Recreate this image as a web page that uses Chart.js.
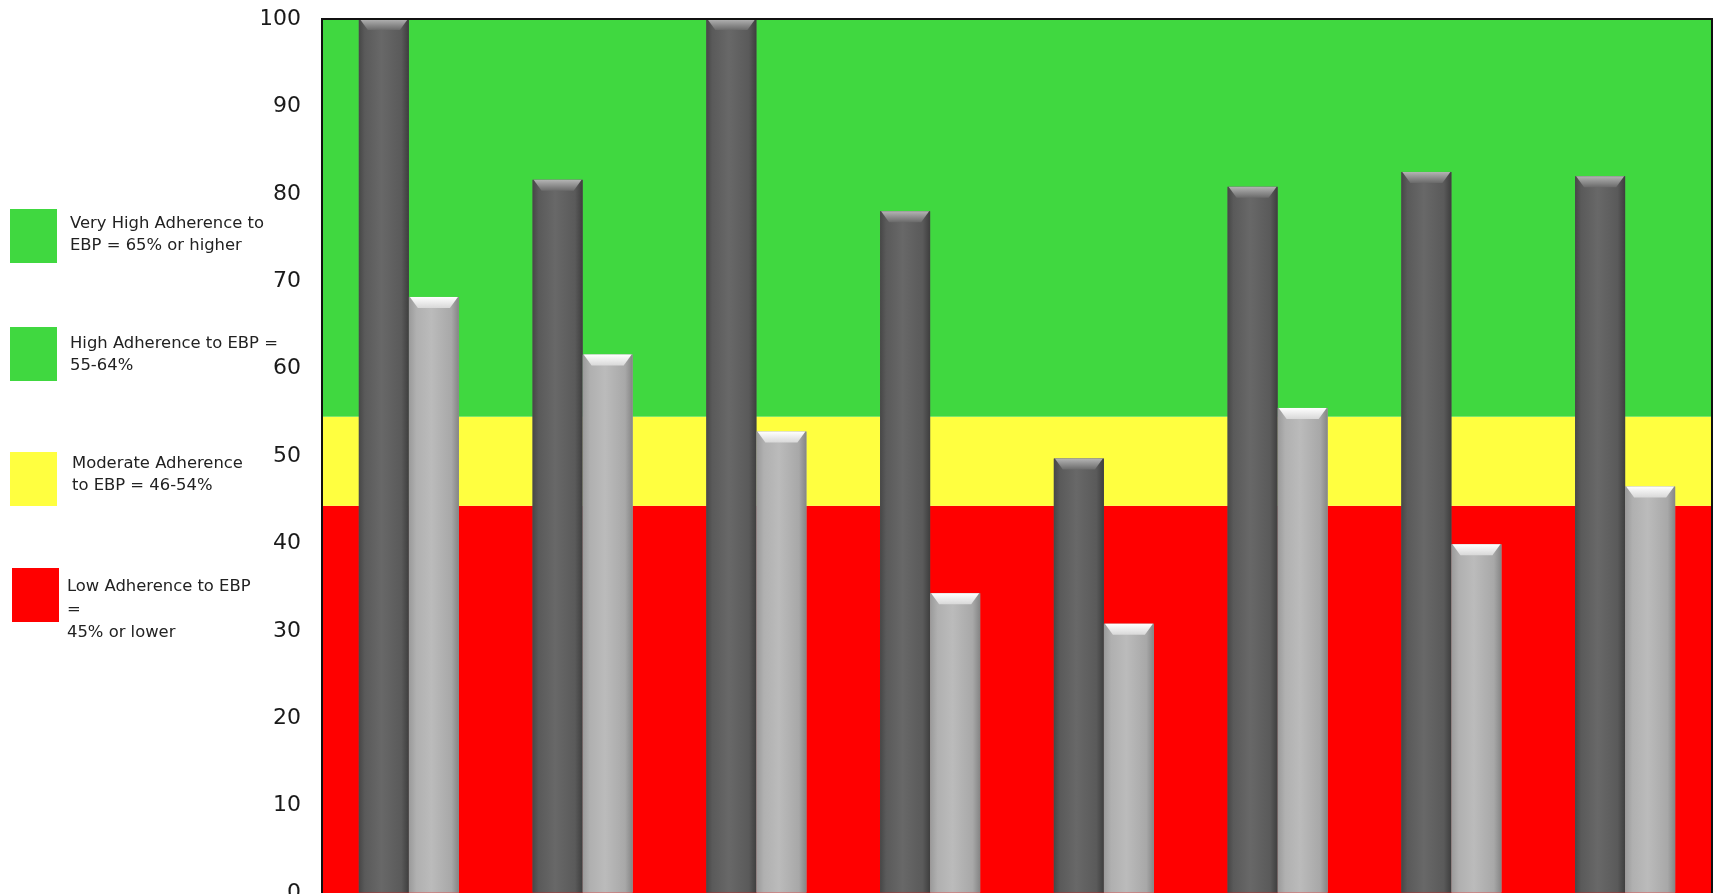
<!DOCTYPE html>
<html><head><meta charset="utf-8">
<script src="https://cdn.jsdelivr.net/npm/chart.js@4/dist/chart.umd.min.js"></script>
<style>
html,body{margin:0;padding:0;background:#fff;overflow:hidden;width:1719px;height:894px;}
#wrap{position:relative;width:1719px;height:911px;}
#c{position:absolute;left:0;top:0;}
.box{position:absolute;width:47px;height:54px;}
.txt{position:absolute;font-family:"DejaVu Sans",sans-serif;font-size:16.4px;line-height:22px;color:#222;white-space:nowrap;}
</style></head><body>
<div id="wrap"><canvas id="c" width="1719" height="911"></canvas><div id="legend"></div></div>
<script>
// ---- data ----
const categories = ["1", "2", "3", "4", "5", "6", "7", "8"];
const seriesDark  = [100, 81.6, 100, 78.0, 49.7, 80.8, 82.5, 82.0];
const seriesLight = [68.2, 61.6, 52.8, 34.3, 30.8, 55.5, 39.9, 46.5];
const yTicks = [0, 10, 20, 30, 40, 50, 60, 70, 80, 90, 100];
const bandLow   = [0, 44.3, 54.5];
const bandHigh  = [44.3, 54.5, 100];
const bandColors = ["#ff0000", "#ffff40", "#40d840"];
const legendLabels = [
  ["Very High Adherence to", "EBP = 65% or higher"],
  ["High Adherence to EBP =", "55-64%"],
  ["Moderate Adherence", "to EBP = 46-54%"],
  ["Low Adherence to EBP", "=", "45% or lower"]
];
const legendColors = ["#40d840", "#40d840", "#ffff40", "#ff0000"];

// ---- legend layout ----
const legendLayout = [
  {bx:10, by:209, tx:70, ty:212, lh:22},
  {bx:10, by:327, tx:70, ty:332, lh:22},
  {bx:10, by:452, tx:72, ty:452, lh:22},
  {bx:12, by:568, tx:67, ty:574, lh:23}
];
const legendEl = document.getElementById('legend');
legendLabels.forEach((lines, i) => {
  const L = legendLayout[i];
  const b = document.createElement('div');
  b.className = 'box';
  b.style.left = L.bx + 'px'; b.style.top = L.by + 'px';
  b.style.background = legendColors[i];
  legendEl.appendChild(b);
  const t = document.createElement('div');
  t.className = 'txt';
  t.style.left = L.tx + 'px'; t.style.top = L.ty + 'px'; t.style.lineHeight = L.lh + 'px';
  lines.forEach((s, k) => {
    if (k) t.appendChild(document.createElement('br'));
    t.appendChild(document.createTextNode(s));
  });
  legendEl.appendChild(t);
});

// ---- plugins ----
const bandsPlugin = {
  id: 'bands',
  beforeDatasetsDraw(chart) {
    const {ctx, chartArea, scales} = chart;
    const y = scales.y;
    ctx.save();
    bandLow.forEach((lo, i) => {
      const yTop = y.getPixelForValue(bandHigh[i]);
      const yBot = y.getPixelForValue(lo);
      ctx.fillStyle = bandColors[i];
      ctx.fillRect(chartArea.left, yTop, chartArea.right - chartArea.left, yBot - yTop);
    });
    ctx.restore();
  }
};

const shadePlugin = {
  id: 'shade',
  afterDatasetsDraw(chart) {
    const {ctx} = chart;
    const styles = [
      {stops: [[0,'#474747'],[0.12,'#5a5a5a'],[0.45,'#686868'],[0.85,'#5a5a5a'],[1,'#3e3e3e']],
       bevTop: '#b4b4b4', bevBot: '#6a6a6a'},
      {stops: [[0,'#9a9a9a'],[0.15,'#b0b0b0'],[0.45,'#bbbbbb'],[0.85,'#a8a8a8'],[1,'#858585']],
       bevTop: '#ffffff', bevBot: '#d8d8d8'}
    ];
    ctx.save();
    chart.data.datasets.forEach((ds, di) => {
      const meta = chart.getDatasetMeta(di);
      const st = styles[di];
      meta.data.forEach(el => {
        const {x, y, width, base} = el.getProps(['x','y','width','base'], true);
        const L = x - width/2, R = x + width/2;
        const g = ctx.createLinearGradient(L, 0, R, 0);
        st.stops.forEach(s => g.addColorStop(s[0], s[1]));
        ctx.fillStyle = g;
        ctx.fillRect(L, y, width, base - y);
        const d = 9, h = 11;
        const gb = ctx.createLinearGradient(0, y, 0, y + h);
        gb.addColorStop(0, st.bevTop);
        gb.addColorStop(1, st.bevBot);
        ctx.fillStyle = gb;
        ctx.beginPath();
        ctx.moveTo(L + 1, y);
        ctx.lineTo(R - 1, y);
        ctx.lineTo(R - d, y + h);
        ctx.lineTo(L + d, y + h);
        ctx.closePath();
        ctx.fill();
      });
    });
    ctx.restore();
  },
  afterDraw(chart) {
    const {ctx, chartArea} = chart;
    ctx.save();
    ctx.strokeStyle = '#111';
    ctx.lineWidth = 2;
    ctx.beginPath();
    ctx.moveTo(chartArea.left, chartArea.bottom);
    ctx.lineTo(chartArea.left, chartArea.top);
    ctx.lineTo(chartArea.right, chartArea.top);
    ctx.lineTo(chartArea.right, chartArea.bottom);
    ctx.stroke();
    ctx.restore();
  }
};

new Chart(document.getElementById('c'), {
  type: 'bar',
  data: {
    labels: categories,
    datasets: [
      {label: 'Series 1', data: seriesDark, backgroundColor: '#5e5e5e', borderWidth: 0},
      {label: 'Series 2', data: seriesLight, backgroundColor: '#b0b0b0', borderWidth: 0}
    ]
  },
  options: {
    responsive: false,
    animation: false,
    events: [],
    layout: {padding: {left: 262, right: 7, top: 19, bottom: 18}},
    datasets: {bar: {categoryPercentage: 0.576, barPercentage: 1.0}},
    plugins: {legend: {display: false}, tooltip: {enabled: false}},
    scales: {
      x: {display: false},
      y: {
        min: 0, max: 100,
        afterFit(s) { s.width = 60; },
        afterBuildTicks(s) { s.ticks = yTicks.map(v => ({value: v})); },
        grid: {display: true, drawOnChartArea: false, drawTicks: true, tickLength: 21, color: 'rgba(0,0,0,0)'},
        border: {display: false},
        ticks: {
          padding: 0,
          color: '#1a1a1a',
          font: {family: 'DejaVu Sans', size: 22}
        }
      }
    }
  },
  plugins: [bandsPlugin, shadePlugin]
});
</script>
</body></html>
